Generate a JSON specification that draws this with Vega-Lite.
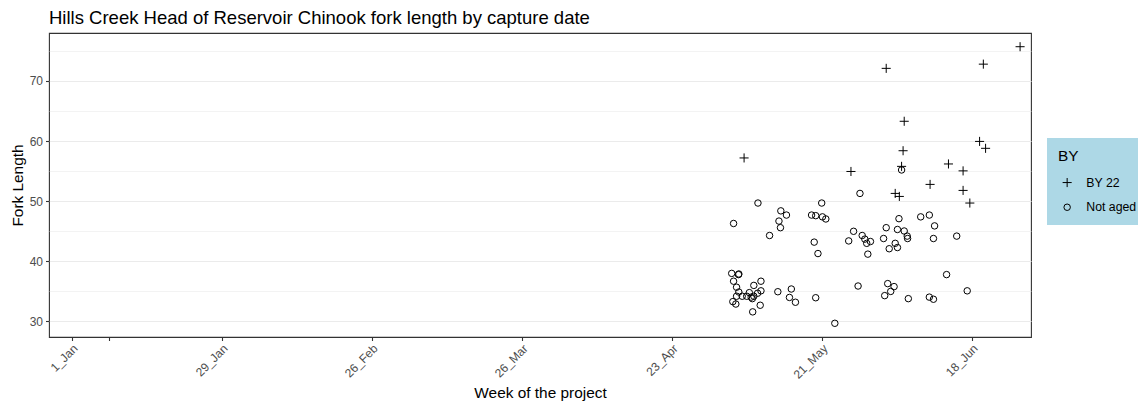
{
  "$schema": "https://vega.github.io/schema/vega-lite/v6.json",
  "autosize": "none",
  "width": 982,
  "height": 304,
  "padding": {"left": 49, "top": 33, "right": 107, "bottom": 67},
  "background": "white",
  "config": {
    "font": "Liberation Sans",
    "view": {"stroke": "#333333", "strokeWidth": 1.1}
  },
  "title": {
    "text": "Hills Creek Head of Reservoir Chinook fork length by capture date",
    "anchor": "start",
    "frame": "group",
    "dx": 0,
    "dy": 20,
    "offset": 11,
    "baseline": "alphabetic",
    "fontSize": 18.5,
    "fontWeight": "normal",
    "color": "black",
    "font": "Liberation Sans"
  },
  "data": {
    "values": [
      {"week": 18.65, "fl": 46.3, "BY": "Not aged"},
      {"week": 19.30, "fl": 49.7, "BY": "Not aged"},
      {"week": 19.61, "fl": 44.3, "BY": "Not aged"},
      {"week": 19.91, "fl": 48.4, "BY": "Not aged"},
      {"week": 20.06, "fl": 47.7, "BY": "Not aged"},
      {"week": 19.86, "fl": 46.7, "BY": "Not aged"},
      {"week": 19.90, "fl": 45.6, "BY": "Not aged"},
      {"week": 20.73, "fl": 47.7, "BY": "Not aged"},
      {"week": 20.84, "fl": 47.6, "BY": "Not aged"},
      {"week": 21.00, "fl": 49.7, "BY": "Not aged"},
      {"week": 21.02, "fl": 47.4, "BY": "Not aged"},
      {"week": 21.11, "fl": 47.05, "BY": "Not aged"},
      {"week": 20.80, "fl": 43.2, "BY": "Not aged"},
      {"week": 20.90, "fl": 41.3, "BY": "Not aged"},
      {"week": 22.02, "fl": 51.3, "BY": "Not aged"},
      {"week": 21.85, "fl": 45.0, "BY": "Not aged"},
      {"week": 21.72, "fl": 43.4, "BY": "Not aged"},
      {"week": 22.08, "fl": 44.3, "BY": "Not aged"},
      {"week": 22.15, "fl": 43.7, "BY": "Not aged"},
      {"week": 22.20, "fl": 43.0, "BY": "Not aged"},
      {"week": 22.30, "fl": 43.3, "BY": "Not aged"},
      {"week": 22.23, "fl": 41.2, "BY": "Not aged"},
      {"week": 21.97, "fl": 35.9, "BY": "Not aged"},
      {"week": 21.35, "fl": 29.7, "BY": "Not aged"},
      {"week": 18.60, "fl": 38.0, "BY": "Not aged"},
      {"week": 18.78, "fl": 37.8, "BY": "Not aged"},
      {"week": 18.79, "fl": 37.9, "BY": "Not aged"},
      {"week": 18.65, "fl": 36.7, "BY": "Not aged"},
      {"week": 18.73, "fl": 35.7, "BY": "Not aged"},
      {"week": 18.79, "fl": 34.9, "BY": "Not aged"},
      {"week": 18.73, "fl": 34.2, "BY": "Not aged"},
      {"week": 18.63, "fl": 33.3, "BY": "Not aged"},
      {"week": 18.71, "fl": 32.9, "BY": "Not aged"},
      {"week": 18.88, "fl": 34.2, "BY": "Not aged"},
      {"week": 19.00, "fl": 34.2, "BY": "Not aged"},
      {"week": 19.07, "fl": 34.8, "BY": "Not aged"},
      {"week": 19.12, "fl": 34.05, "BY": "Not aged"},
      {"week": 19.15, "fl": 33.8, "BY": "Not aged"},
      {"week": 19.19, "fl": 34.2, "BY": "Not aged"},
      {"week": 19.19, "fl": 36.0, "BY": "Not aged"},
      {"week": 19.29, "fl": 34.7, "BY": "Not aged"},
      {"week": 19.38, "fl": 36.7, "BY": "Not aged"},
      {"week": 19.38, "fl": 35.1, "BY": "Not aged"},
      {"week": 19.36, "fl": 32.7, "BY": "Not aged"},
      {"week": 19.16, "fl": 31.6, "BY": "Not aged"},
      {"week": 19.83, "fl": 34.95, "BY": "Not aged"},
      {"week": 20.19, "fl": 35.4, "BY": "Not aged"},
      {"week": 20.14, "fl": 34.0, "BY": "Not aged"},
      {"week": 20.30, "fl": 33.2, "BY": "Not aged"},
      {"week": 20.84, "fl": 33.95, "BY": "Not aged"},
      {"week": 22.72, "fl": 45.6, "BY": "Not aged"},
      {"week": 22.65, "fl": 43.8, "BY": "Not aged"},
      {"week": 23.06, "fl": 47.1, "BY": "Not aged"},
      {"week": 23.02, "fl": 45.3, "BY": "Not aged"},
      {"week": 23.20, "fl": 45.05, "BY": "Not aged"},
      {"week": 23.28, "fl": 44.2, "BY": "Not aged"},
      {"week": 23.29, "fl": 43.8, "BY": "Not aged"},
      {"week": 22.96, "fl": 43.0, "BY": "Not aged"},
      {"week": 23.02, "fl": 42.3, "BY": "Not aged"},
      {"week": 22.80, "fl": 42.1, "BY": "Not aged"},
      {"week": 23.13, "fl": 55.2, "BY": "Not aged"},
      {"week": 23.64, "fl": 47.4, "BY": "Not aged"},
      {"week": 23.87, "fl": 47.7, "BY": "Not aged"},
      {"week": 24.01, "fl": 45.9, "BY": "Not aged"},
      {"week": 23.98, "fl": 43.8, "BY": "Not aged"},
      {"week": 24.60, "fl": 44.2, "BY": "Not aged"},
      {"week": 22.76, "fl": 36.3, "BY": "Not aged"},
      {"week": 22.93, "fl": 35.8, "BY": "Not aged"},
      {"week": 22.68, "fl": 34.3, "BY": "Not aged"},
      {"week": 22.84, "fl": 35.0, "BY": "Not aged"},
      {"week": 23.31, "fl": 33.8, "BY": "Not aged"},
      {"week": 24.33, "fl": 37.8, "BY": "Not aged"},
      {"week": 23.87, "fl": 34.05, "BY": "Not aged"},
      {"week": 23.98, "fl": 33.7, "BY": "Not aged"},
      {"week": 24.88, "fl": 35.1, "BY": "Not aged"},
      {"week": 18.93, "fl": 57.2, "BY": "BY 22"},
      {"week": 21.78, "fl": 54.95, "BY": "BY 22"},
      {"week": 22.72, "fl": 72.1, "BY": "BY 22"},
      {"week": 22.96, "fl": 51.3, "BY": "BY 22"},
      {"week": 23.07, "fl": 50.8, "BY": "BY 22"},
      {"week": 23.13, "fl": 55.8, "BY": "BY 22"},
      {"week": 23.17, "fl": 58.4, "BY": "BY 22"},
      {"week": 23.20, "fl": 63.3, "BY": "BY 22"},
      {"week": 23.89, "fl": 52.8, "BY": "BY 22"},
      {"week": 24.38, "fl": 56.2, "BY": "BY 22"},
      {"week": 24.77, "fl": 55.05, "BY": "BY 22"},
      {"week": 24.77, "fl": 51.8, "BY": "BY 22"},
      {"week": 24.95, "fl": 49.7, "BY": "BY 22"},
      {"week": 25.21, "fl": 59.95, "BY": "BY 22"},
      {"week": 25.37, "fl": 58.8, "BY": "BY 22"},
      {"week": 25.31, "fl": 72.8, "BY": "BY 22"},
      {"week": 26.29, "fl": 75.7, "BY": "BY 22"}
    ]
  },
  "mark": {"type": "point", "filled": false, "stroke": "black", "strokeWidth": 1, "opacity": 1, "size": 42},
  "encoding": {
    "x": {
      "field": "week",
      "type": "quantitative",
      "scale": {"domain": [0.395, 26.581], "nice": false, "zero": false},
      "axis": {
        "title": "Week of the project",
        "titleFontSize": 15.4,
        "titleFontWeight": "normal",
        "titleColor": "black",
        "titlePadding": 5,
        "values": [1, 2, 5, 9, 13, 17, 21, 25],
        "labelExpr": "datum.value < 1.5 ? '1_Jan' : datum.value < 3 ? '' : datum.value < 6 ? '29_Jan' : datum.value < 10 ? '26_Feb' : datum.value < 14 ? '26_Mar' : datum.value < 19 ? '23_Apr' : datum.value < 23 ? '21_May' : '18_Jun'",
        "labelAngle": -45,
        "labelAlign": "right",
        "labelBaseline": "top",
        "labelFontSize": 12,
        "labelColor": "#4D4D4D",
        "labelOverlap": false,
        "labelFlush": false,
        "labelPadding": 2,
        "tickColor": "#333333",
        "tickSize": 3.5,
        "tickWidth": 1.1,
        "domain": false,
        "grid": false
      }
    },
    "y": {
      "field": "fl",
      "type": "quantitative",
      "scale": {"domain": [27.42, 77.98], "nice": false, "zero": false},
      "axis": {
        "title": "Fork Length",
        "titleFontSize": 15.4,
        "titleFontWeight": "normal",
        "titleColor": "black",
        "titlePadding": 4,
        "values": [30, 35, 40, 45, 50, 55, 60, 65, 70, 75],
        "labelExpr": "datum.value % 10 === 0 ? datum.label : ''",
        "labelFontSize": 12,
        "labelColor": "#4D4D4D",
        "labelPadding": 3,
        "tickColor": "#333333",
        "tickSize": 3.5,
        "tickWidth": 1.1,
        "tickOpacity": {"condition": {"test": "datum.value % 10 === 0", "value": 1}, "value": 0},
        "domain": false,
        "grid": true,
        "gridColor": "#EBEBEB",
        "gridWidth": {"condition": {"test": "datum.value % 10 === 0", "value": 1.1}, "value": 0.6}
      }
    },
    "shape": {
      "field": "BY",
      "type": "nominal",
      "scale": {"domain": ["BY 22", "Not aged"], "range": ["M-1.4,0H1.4M0,-1.4V1.4", "circle"]},
      "legend": {
        "title": "BY",
        "orient": "none",
        "legendX": 998,
        "legendY": 105,
        "fillColor": "#ADD8E6",
        "padding": 11,
        "titleFontSize": 15.4,
        "titleFontWeight": "normal",
        "titleColor": "black",
        "titlePadding": 12,
        "labelFontSize": 12.3,
        "labelColor": "black",
        "labelOffset": 13,
        "symbolOffset": 3,
        "rowPadding": 11.7,
        "symbolStrokeColor": "black",
        "symbolStrokeWidth": 1,
        "symbolSize": 42
      }
    }
  }
}
